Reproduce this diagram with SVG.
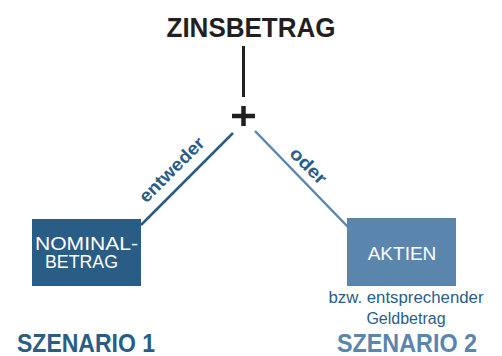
<svg xmlns="http://www.w3.org/2000/svg" width="502" height="356" viewBox="0 0 502 356">
<style>
.t{font-family:"Liberation Sans",Arial,sans-serif}
.b{font-weight:bold}
.dark{fill:#2a5d86}
.light{fill:#5a86ae}
.w{fill:#ffffff}
</style>
<rect width="502" height="356" fill="#ffffff"/>
<g id="title">
<text class="t b" x="251" y="37" font-size="28" text-anchor="middle" fill="#231f20" textLength="169" lengthAdjust="spacingAndGlyphs">ZINSBETRAG</text>
</g>
<g id="connectors">
<line x1="243.5" y1="46" x2="243.5" y2="97" stroke="#231f20" stroke-width="3"/>
<line x1="243.5" y1="106" x2="243.5" y2="126" stroke="#231f20" stroke-width="4.5"/>
<line x1="232" y1="116" x2="255" y2="116" stroke="#231f20" stroke-width="4.5"/>
<line x1="141" y1="225" x2="233" y2="133" stroke="#2a5d86" stroke-width="2.5"/>
<line x1="255" y1="131" x2="348" y2="227" stroke="#5a86ae" stroke-width="2.5"/>
<text class="t b dark" font-size="18" text-anchor="middle" transform="translate(176,174) rotate(-45)" textLength="84" lengthAdjust="spacingAndGlyphs">entweder</text>
<text class="t b dark" font-size="18" text-anchor="middle" transform="translate(304,170) rotate(45)" textLength="44" lengthAdjust="spacingAndGlyphs">oder</text>
</g>
<g id="nominal">
<rect x="32" y="219" width="109" height="67" fill="#2a5d86"/>
<text class="t w" x="35" y="250" font-size="19" textLength="103" lengthAdjust="spacingAndGlyphs">NOMINAL-</text>
<text class="t w" x="45" y="268" font-size="19" textLength="73" lengthAdjust="spacingAndGlyphs">BETRAG</text>
</g>
<g id="aktien">
<rect x="347" y="218" width="109" height="68" fill="#5a86ae"/>
<text class="t w" x="402" y="260" font-size="19" text-anchor="middle">AKTIEN</text>
<text class="t dark" x="406" y="303" font-size="16" text-anchor="middle" textLength="155" lengthAdjust="spacingAndGlyphs">bzw. entsprechender</text>
<text class="t dark" x="406" y="324" font-size="16" text-anchor="middle">Geldbetrag</text>
</g>
<g id="szenario1">
<text class="t b dark" x="17" y="352" font-size="26" textLength="138" lengthAdjust="spacingAndGlyphs">SZENARIO 1</text>
</g>
<g id="szenario2">
<text class="t b light" x="337" y="352" font-size="26" textLength="140" lengthAdjust="spacingAndGlyphs">SZENARIO 2</text>
</g>
</svg>
